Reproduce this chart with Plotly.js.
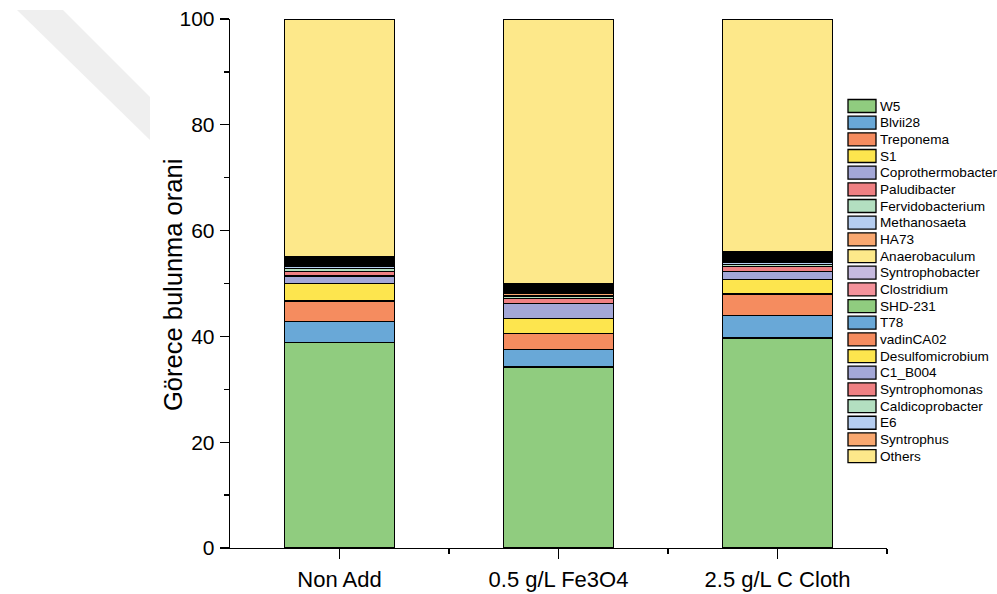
<!DOCTYPE html>
<html>
<head>
<meta charset="utf-8">
<script src="https://cdn.plot.ly/plotly-3.0.1.min.js"></script>
<style>html,body{margin:0;padding:0;background:#fff;}#chart{width:997px;height:594px;}</style>
</head>
<body>
<div id="chart"></div>
<script>
// Categories (x positions 0,1,2 with labels)
const categories = ["Non Add", "0.5 g/L Fe3O4", "2.5 g/L C Cloth"];
const catIndex = [0, 1, 2];

// Relative abundance (%) per taxon, one value per category
const W5               = [38.9, 34.2, 39.7];
const Blvii28          = [3.9, 3.3, 4.3];
const Treponema        = [3.9, 3.0, 4.0];
const S1               = [3.3, 2.9, 2.7];
const Coprothermobacter= [1.4, 2.8, 1.6];
const Paludibacter     = [0.9, 0.9, 0.9];
const Fervidobacterium = [0.5, 0.4, 0.4];
const Methanosaeta     = [0.4, 0.3, 0.35];
const HA73             = [0.3, 0.3, 0.3];
const Anaerobaculum    = [0.25, 0.25, 0.25];
const Syntrophobacter  = [0.2, 0.2, 0.25];
const Clostridium      = [0.15, 0.2, 0.2];
const SHD231           = [0.15, 0.15, 0.15];
const T78              = [0.15, 0.15, 0.15];
const vadinCA02        = [0.15, 0.15, 0.15];
const Desulfomicrobium = [0.1, 0.15, 0.15];
const C1_B004          = [0.1, 0.15, 0.15];
const Syntrophomonas   = [0.1, 0.1, 0.1];
const Caldicoprobacter = [0.1, 0.1, 0.1];
const E6               = [0.1, 0.1, 0.1];
const Syntrophus       = [0.1, 0.1, 0.1];
const Others           = [44.85, 50.1, 43.9];

const seriesNames = ["W5","Blvii28","Treponema","S1","Coprothermobacter","Paludibacter",
  "Fervidobacterium","Methanosaeta","HA73","Anaerobaculum","Syntrophobacter","Clostridium",
  "SHD-231","T78","vadinCA02","Desulfomicrobium","C1_B004","Syntrophomonas","Caldicoprobacter",
  "E6","Syntrophus","Others"];
const seriesValues = [W5,Blvii28,Treponema,S1,Coprothermobacter,Paludibacter,
  Fervidobacterium,Methanosaeta,HA73,Anaerobaculum,Syntrophobacter,Clostridium,
  SHD231,T78,vadinCA02,Desulfomicrobium,C1_B004,Syntrophomonas,Caldicoprobacter,
  E6,Syntrophus,Others];

const seriesColors = ["#90cc7f","#69a8d7","#f58c5f","#fde54e","#a3a7d7","#ef8083",
  "#b3dfc0","#b5cdf0","#f9a870","#fde98a","#c6badf","#f4929b",
  "#90cc7f","#69a8d7","#f58c5f","#fde54e","#a3a7d7","#ef8083",
  "#b3dfc0","#b5cdf0","#f9a870","#fde88a"];

const traces = seriesNames.map((n, i) => ({
  type: "bar",
  name: n,
  x: catIndex,
  y: seriesValues[i],
  width: 0.5,
  marker: {color: seriesColors[i], line: {color: "#000", width: 1.2}},
  hoverinfo: "name+y",
  showlegend: false
}));

const font = "Arial, 'Liberation Sans', sans-serif";

// Legend drawn as shapes + text annotations (compact spacing like the original)
const plotW = 997 - 230 - 110, plotH = 594 - 19 - 46;
const px2x = p => (p - 230) / plotW;
const py2y = p => (548 - p) / plotH;
const legTop = 106, legStep = 16.67;
const shapes = [{
  type: "path", xref: "paper", yref: "paper", layer: "below",
  path: "M " + px2x(17) + " " + py2y(10) + " L " + px2x(63) + " " + py2y(10) +
        " L " + px2x(150) + " " + py2y(97) + " L " + px2x(150) + " " + py2y(140) + " Z",
  fillcolor: "#efefef", line: {width: 0}
}];
const annotations = [{
  text: "Görece bulunma orani", textangle: -90,
  xref: "paper", yref: "paper", x: px2x(173), y: py2y(285),
  xanchor: "center", yanchor: "middle", showarrow: false,
  font: {family: font, size: 25.5, color: "#000"}
}];
seriesNames.forEach((n, i) => {
  const cy = legTop + i * legStep;
  shapes.push({
    type: "rect", xref: "paper", yref: "paper",
    x0: px2x(848), x1: px2x(876), y0: py2y(cy - 6.5), y1: py2y(cy + 6.5),
    fillcolor: seriesColors[i], line: {color: "#000", width: 1.3}
  });
  annotations.push({
    text: n, xref: "paper", yref: "paper", x: px2x(878), y: py2y(cy),
    xanchor: "left", yanchor: "middle", showarrow: false,
    font: {family: font, size: 13.6, color: "#000"}
  });
});

const layout = {
  width: 997, height: 594,
  margin: {l: 230, r: 110, t: 19, b: 46},
  paper_bgcolor: "#fff", plot_bgcolor: "rgba(0,0,0,0)",
  barmode: "stack",
  bargap: 0,
  font: {family: font, color: "#000"},
  showlegend: false,
  xaxis: {
    range: [-0.5, 2.5],
    tickvals: catIndex, ticktext: categories,
    ticks: "outside", ticklen: 10, tickwidth: 1.3, tickcolor: "#000",
    showline: true, linecolor: "#000", linewidth: 1.3,
    showgrid: false, zeroline: false,
    ticklabelstandoff: 1,
    tickfont: {family: font, size: 22, color: "#000"},
    minor: {tickvals: [0.5, 1.5, 2.5], ticks: "outside", ticklen: 5, tickwidth: 1.3, tickcolor: "#000", showgrid: false}
  },
  yaxis: {
    range: [0, 100], dtick: 20, tick0: 0,
    ticks: "outside", ticklen: 9, tickwidth: 1.3, tickcolor: "#000",
    showline: true, linecolor: "#000", linewidth: 1.3,
    showgrid: false, zeroline: false,
    ticklabelstandoff: 1,
    tickfont: {family: font, size: 21, color: "#000"},
    minor: {dtick: 10, tick0: 0, ticks: "outside", ticklen: 5, tickwidth: 1.3, tickcolor: "#000", showgrid: false}
  },
  shapes: shapes,
  annotations: annotations
};

Plotly.newPlot("chart", traces, layout, {displayModeBar: false, staticPlot: true});
</script>
</body>
</html>
